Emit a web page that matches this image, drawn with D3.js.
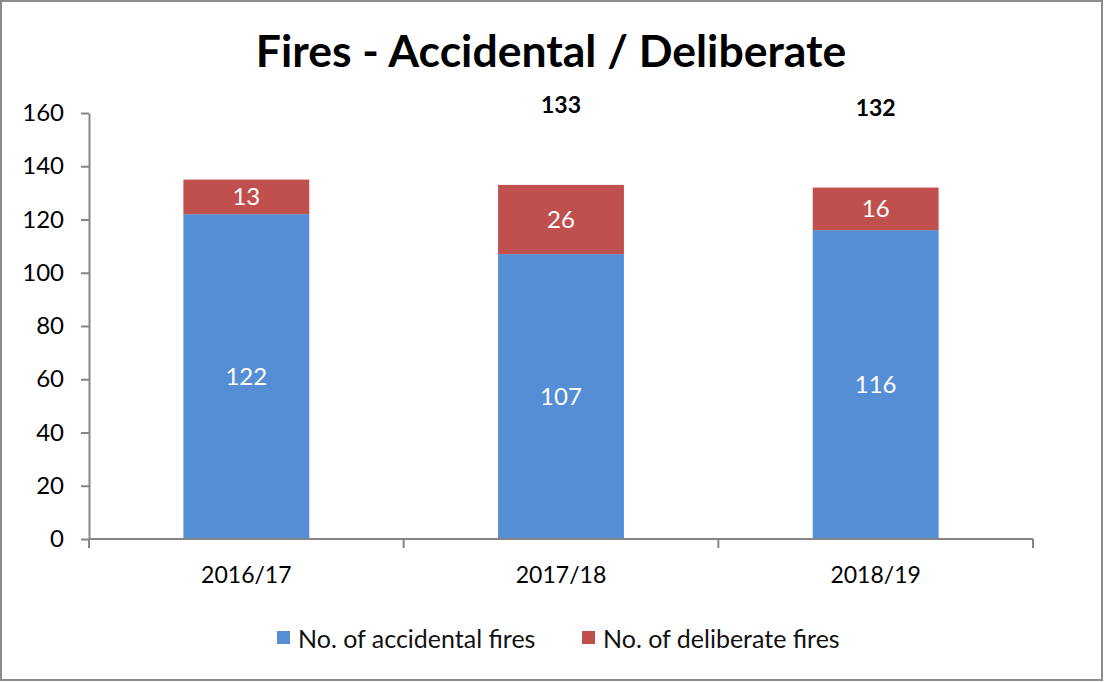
<!DOCTYPE html>
<html><head><meta charset="utf-8">
<script src="https://cdn.jsdelivr.net/npm/d3@7"></script>
<style>body{margin:0;background:#fff}svg{display:block}</style>
</head><body>
<svg id="c" width="1104" height="682"></svg>
<script>
const categories = ["2016/17", "2017/18", "2018/19"];
const accidental = [122, 107, 116];
const deliberate = [13, 26, 16];
const totals = [null, 133, 132];
const yTicks = [0, 20, 40, 60, 80, 100, 120, 140, 160];
const seriesNames = ["No. of accidental fires", "No. of deliberate fires"];
const colors = ["#558ED5", "#C0504D"];
const title = "Fires - Accidental / Deliberate";

const FONT = "Lato, 'Open Sans', sans-serif";
const svg = d3.select("#c");
svg.append("rect").attr("x",1).attr("y",1).attr("width",1101).attr("height",679)
  .attr("fill","#fff").attr("stroke","#8c8c8c").attr("stroke-width",2);

const x0 = 89, x1 = 1033, yTop = 113, yBot = 539;
const x = d3.scaleBand().domain(categories).range([x0, x1]).paddingInner(0.6).paddingOuter(0.3);
const y = d3.scaleLinear().domain([0,160]).range([yBot, yTop]);

svg.append("text").attr("x",551).attr("y",67).attr("text-anchor","middle")
  .style("font-family",FONT).style("font-weight","bold").style("font-size","44.5px").text(title);

// y axis
const ya = svg.append("g").attr("transform",`translate(${x0},0)`)
  .call(d3.axisLeft(y).tickValues(yTicks).tickSize(8).tickPadding(17).tickSizeOuter(0));
ya.select(".domain").attr("stroke","#868686").attr("stroke-width",2);
ya.selectAll(".tick line").attr("stroke","#868686").attr("stroke-width",2);
ya.selectAll(".tick text").style("font-family",FONT).style("font-size","24px").attr("fill","#000");

// bars
const stack = categories.map((c,i)=>({c, a:accidental[i], d:deliberate[i]}));
const g = svg.append("g");
g.selectAll(".ba").data(stack).join("rect")
  .attr("x",d=>x(d.c)).attr("width",x.bandwidth())
  .attr("y",d=>y(d.a)).attr("height",d=>y(0)-y(d.a)).attr("fill",colors[0]);
g.selectAll(".bd").data(stack).join("rect").attr("class","bd")
  .attr("x",d=>x(d.c)).attr("width",x.bandwidth())
  .attr("y",d=>y(d.a+d.d)).attr("height",d=>y(d.a)-y(d.a+d.d)).attr("fill",colors[1]);

// labels
g.selectAll(".la").data(stack).join("text").attr("class","la")
  .attr("x",d=>x(d.c)+x.bandwidth()/2).attr("y",d=>(y(0)+y(d.a))/2)
  .attr("dy","0.35em").attr("text-anchor","middle").attr("fill","#fff")
  .style("font-family",FONT).style("font-size","24px").text(d=>d.a);
g.selectAll(".ld").data(stack).join("text").attr("class","ld")
  .attr("x",d=>x(d.c)+x.bandwidth()/2).attr("y",d=>(y(d.a)+y(d.a+d.d))/2)
  .attr("dy","0.35em").attr("text-anchor","middle").attr("fill","#fff")
  .style("font-family",FONT).style("font-size","24px").text(d=>d.d);
g.selectAll(".lt").data(categories.map((c,i)=>({c,t:totals[i]})).filter(d=>d.t!=null)).join("text")
  .attr("x",d=>x(d.c)+x.bandwidth()/2).attr("y",d=>y(d.t)-80)
  .attr("dy","0.35em").attr("text-anchor","middle").attr("fill","#000")
  .style("font-family",FONT).style("font-weight","bold").style("font-size","23px").text(d=>d.t);

// x axis
const bx = d3.scalePoint().domain(d3.range(categories.length+1)).range([x0,x1]);
const xa = svg.append("g").attr("transform",`translate(0,${yBot})`);
xa.append("line").attr("x1",x0).attr("x2",x1).attr("stroke","#868686").attr("stroke-width",2);
xa.selectAll(".bt").data(bx.domain()).join("line")
  .attr("x1",d=>bx(d)).attr("x2",d=>bx(d)).attr("y1",0).attr("y2",9)
  .attr("stroke","#868686").attr("stroke-width",2);
xa.selectAll(".ct").data(categories).join("text")
  .attr("x",d=>x(d)+x.bandwidth()/2).attr("y",36).attr("dy","0.35em").attr("text-anchor","middle")
  .style("font-family",FONT).style("font-size","23px").text(d=>d);

// legend
const legX = [277, 582];
const lg = svg.append("g");
seriesNames.forEach((n,i)=>{
  lg.append("rect").attr("x",legX[i]).attr("y",631).attr("width",13).attr("height",13).attr("fill",colors[i]);
  lg.append("text").attr("x",legX[i]+21).attr("y",639).attr("dy","0.35em")
    .style("font-family",FONT).style("font-size","25px").attr("fill","#111").text(n);
});
</script>
</body></html>
